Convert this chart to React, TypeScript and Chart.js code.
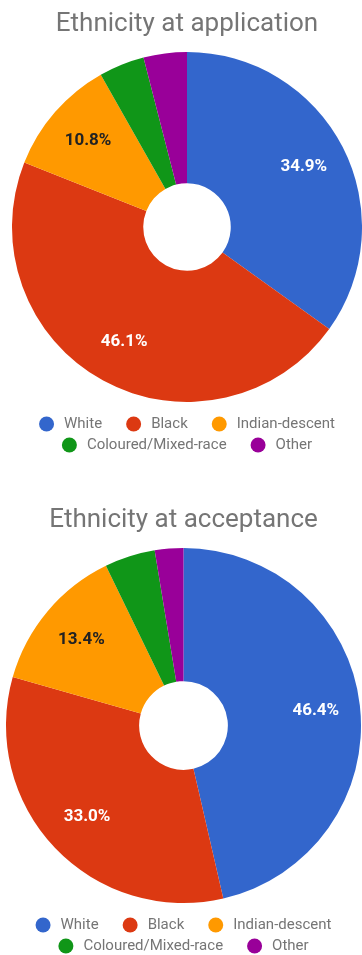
import React, { useEffect, useRef } from 'react';
import { Chart, registerables } from 'chart.js';

Chart.register(...registerables);

const categories = ['White', 'Black', 'Indian-descent', 'Coloured/Mixed-race', 'Other'];
const applicationValues = [34.9, 46.1, 10.8, 4.2, 4.0];
const acceptanceValues = [46.4, 33.0, 13.4, 4.6, 2.6];
const sliceColors = ['#3366CC', '#DC3912', '#FF9900', '#109618', '#990099'];
const labelColors = ['#ffffff', '#ffffff', '#222222', '#ffffff', '#ffffff'];
const chartTitles = ['Ethnicity at application', 'Ethnicity at acceptance'];

const sliceLabelPlugin = {
  id: 'sliceLabels',
  afterDatasetsDraw(chart: any) {
    const ctx = chart.ctx;
    const values = chart.data.datasets[0].data as number[];
    const total = values.reduce((a, b) => a + b, 0);
    const meta = chart.getDatasetMeta(0);
    ctx.save();
    ctx.font = 'bold 17px Roboto';
    ctx.textAlign = 'center';
    ctx.textBaseline = 'middle';
    meta.data.forEach((arc: any, i: number) => {
      const pct = (values[i] / total) * 100;
      if (pct < 5) return;
      const p = arc.getProps(['x', 'y', 'startAngle', 'endAngle', 'outerRadius'], true);
      const mid = (p.startAngle + p.endAngle) / 2;
      const r = p.outerRadius * 0.75;
      ctx.fillStyle = labelColors[i];
      ctx.fillText(pct.toFixed(1) + '%', p.x + Math.cos(mid) * r, p.y + Math.sin(mid) * r);
    });
    ctx.restore();
  },
};

const roundLegendPlugin = {
  id: 'roundLegend',
  afterDraw(chart: any) {
    const { ctx, chartArea } = chart;
    const labels = chart.data.labels as string[];
    const colors = chart.data.datasets[0].backgroundColor as string[];
    ctx.save();
    ctx.font = '15px Roboto';
    const dot = 15;
    const gap = 10;
    const spacing = 24;
    const rowStep = 21;
    const maxW = chartArea.right - chartArea.left;
    const items = labels.map((t, i) => ({ t, c: colors[i], w: dot + gap + ctx.measureText(t).width }));
    const rows: any[][] = [[]];
    let rw = 0;
    items.forEach((it) => {
      const row = rows[rows.length - 1];
      const add = (row.length ? spacing : 0) + it.w;
      if (row.length && rw + add > maxW) {
        rows.push([it]);
        rw = it.w;
      } else {
        row.push(it);
        rw += add;
      }
    });
    const cx = (chartArea.left + chartArea.right) / 2;
    rows.forEach((row, ri) => {
      const width = row.reduce((s: number, it: any, k: number) => s + it.w + (k ? spacing : 0), 0);
      let x = cx - width / 2;
      const y = chartArea.bottom + 22 + ri * rowStep;
      row.forEach((it: any) => {
        ctx.fillStyle = it.c;
        ctx.beginPath();
        ctx.arc(x + dot / 2, y, dot / 2, 0, Math.PI * 2);
        ctx.fill();
        ctx.fillStyle = '#757575';
        ctx.textAlign = 'left';
        ctx.textBaseline = 'middle';
        ctx.fillText(it.t, x + dot + gap, y);
        x += it.w + spacing;
      });
    });
    ctx.restore();
  },
};

type DonutProps = {
  title: string;
  values: number[];
  height: number;
  padding: { left: number; right: number; top: number; bottom: number };
  titlePad: { top: number; bottom: number };
};

function Donut({ title, values, height, padding, titlePad }: DonutProps) {
  const ref = useRef<HTMLCanvasElement>(null);
  useEffect(() => {
    if (!ref.current) return;
    const chart = new Chart(ref.current, {
      type: 'doughnut',
      data: {
        labels: categories,
        datasets: [
          {
            data: values,
            backgroundColor: sliceColors,
            borderWidth: 0,
            hoverOffset: 0,
          },
        ],
      },
      options: {
        animation: false,
        responsive: false,
        maintainAspectRatio: false,
        cutout: '25%',
        layout: { padding },
        plugins: {
          legend: { display: false },
          tooltip: { enabled: false },
          title: {
            display: true,
            text: title,
            color: '#757575',
            font: { family: 'Roboto', size: 26, weight: 'normal' },
            padding: titlePad,
          },
        },
      } as any,
      plugins: [sliceLabelPlugin, roundLegendPlugin],
    });
    return () => chart.destroy();
  }, []);
  return <canvas ref={ref} width={362} height={height} style={{ display: 'block', width: 362, height }} />;
}

export default function App() {
  return (
    <div style={{ position: 'absolute', left: 0, top: 0, width: 362, height: 955, background: '#ffffff', overflow: 'hidden' }}>
      <Donut
        title={chartTitles[0]}
        values={applicationValues}
        height={478}
        padding={{ left: 12, right: 0, top: 0, bottom: 76 }}
        titlePad={{ top: 9, bottom: 11.8 }}
      />
      <Donut
        title={chartTitles[1]}
        values={acceptanceValues}
        height={477}
        padding={{ left: 6, right: 1, top: 0, bottom: 52 }}
        titlePad={{ top: 27, bottom: 11.8 }}
      />
    </div>
  );
}
